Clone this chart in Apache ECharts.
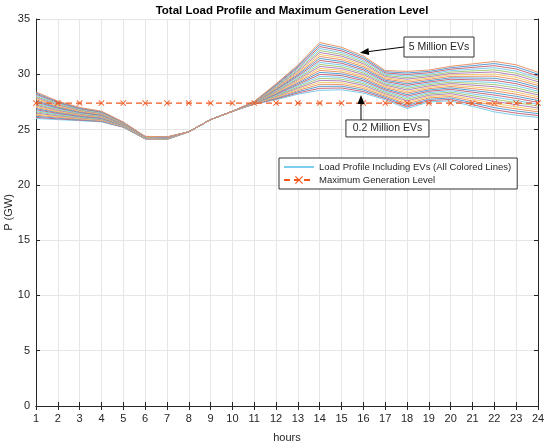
<!DOCTYPE html>
<html>
<head>
<meta charset="utf-8">
<title>Total Load Profile and Maximum Generation Level</title>
<script src="https://cdn.jsdelivr.net/npm/echarts@6/dist/echarts.min.js"></script>
<style>
    html, body { margin: 0; padding: 0; background: #fff; }
    #chart { width: 550px; height: 445px; }
</style>
</head>
<body>
<div id="chart"></div>
<script>
// hours of the day
const hours = [1, 2, 3, 4, 5, 6, 7, 8, 9, 10, 11, 12, 13, 14, 15, 16, 17, 18, 19, 20, 21, 22, 23, 24];

// number of EVs (millions) for each load profile
const fleetSizes = [0.2, 0.4, 0.6, 0.8, 1.0, 1.2, 1.4, 1.6, 1.8, 2.0, 2.2, 2.4, 2.6, 2.8, 3.0, 3.2, 3.4, 3.6, 3.8, 4.0, 4.2, 4.4, 4.6, 4.8, 5.0];

// load profile including EVs (GW), one array per fleet size
const ev0_2 = [26.0, 25.9, 25.8, 25.7, 25.2, 24.15, 24.1, 24.8, 25.9, 26.65, 27.3, 27.7, 28.2, 28.55, 28.6, 28.3, 27.7, 26.9, 27.5, 27.6, 27.1, 26.6, 26.3, 26.1];
const ev0_4 = [26.1, 25.97, 25.85, 25.74, 25.22, 24.16, 24.11, 24.8, 25.9, 26.65, 27.31, 27.76, 28.31, 28.73, 28.76, 28.44, 27.81, 27.04, 27.62, 27.73, 27.26, 26.79, 26.49, 26.27];
const ev0_6 = [26.2, 26.04, 25.9, 25.78, 25.24, 24.17, 24.12, 24.8, 25.9, 26.65, 27.32, 27.82, 28.42, 28.91, 28.92, 28.58, 27.92, 27.18, 27.74, 27.86, 27.42, 26.98, 26.68, 26.44];
const ev0_8 = [26.3, 26.11, 25.95, 25.82, 25.26, 24.18, 24.13, 24.8, 25.9, 26.65, 27.33, 27.88, 28.53, 29.09, 29.08, 28.72, 28.03, 27.32, 27.86, 27.99, 27.58, 27.17, 26.87, 26.61];
const ev1_0 = [26.4, 26.18, 26.0, 25.86, 25.28, 24.19, 24.14, 24.8, 25.9, 26.65, 27.34, 27.94, 28.64, 29.27, 29.24, 28.86, 28.14, 27.46, 27.98, 28.12, 27.74, 27.36, 27.06, 26.78];
const ev1_2 = [26.5, 26.25, 26.05, 25.9, 25.3, 24.2, 24.15, 24.8, 25.9, 26.65, 27.35, 28.0, 28.75, 29.45, 29.4, 29.0, 28.25, 27.6, 28.1, 28.25, 27.9, 27.55, 27.25, 26.95];
const ev1_4 = [26.6, 26.32, 26.1, 25.94, 25.32, 24.21, 24.16, 24.8, 25.9, 26.65, 27.36, 28.06, 28.86, 29.63, 29.56, 29.14, 28.36, 27.74, 28.22, 28.38, 28.06, 27.74, 27.44, 27.12];
const ev1_6 = [26.7, 26.39, 26.15, 25.98, 25.34, 24.22, 24.17, 24.8, 25.9, 26.65, 27.37, 28.12, 28.97, 29.81, 29.72, 29.28, 28.47, 27.88, 28.34, 28.51, 28.22, 27.93, 27.63, 27.29];
const ev1_8 = [26.8, 26.46, 26.2, 26.02, 25.36, 24.23, 24.18, 24.8, 25.9, 26.65, 27.38, 28.18, 29.08, 29.99, 29.88, 29.42, 28.58, 28.02, 28.46, 28.64, 28.38, 28.12, 27.82, 27.46];
const ev2_0 = [26.9, 26.53, 26.25, 26.06, 25.38, 24.24, 24.19, 24.8, 25.9, 26.65, 27.39, 28.24, 29.19, 30.17, 30.04, 29.56, 28.69, 28.16, 28.58, 28.77, 28.54, 28.31, 28.01, 27.63];
const ev2_2 = [27.0, 26.6, 26.3, 26.1, 25.4, 24.25, 24.2, 24.8, 25.9, 26.65, 27.4, 28.3, 29.3, 30.35, 30.2, 29.7, 28.8, 28.3, 28.7, 28.9, 28.7, 28.5, 28.2, 27.8];
const ev2_4 = [27.1, 26.67, 26.35, 26.14, 25.42, 24.26, 24.21, 24.8, 25.9, 26.65, 27.41, 28.36, 29.41, 30.53, 30.36, 29.84, 28.91, 28.44, 28.82, 29.03, 28.86, 28.69, 28.39, 27.97];
const ev2_6 = [27.2, 26.74, 26.4, 26.18, 25.44, 24.27, 24.22, 24.8, 25.9, 26.65, 27.42, 28.42, 29.52, 30.71, 30.52, 29.98, 29.02, 28.58, 28.94, 29.16, 29.02, 28.88, 28.58, 28.14];
const ev2_8 = [27.3, 26.81, 26.45, 26.22, 25.46, 24.28, 24.23, 24.8, 25.9, 26.65, 27.43, 28.48, 29.63, 30.89, 30.68, 30.12, 29.13, 28.72, 29.06, 29.29, 29.18, 29.07, 28.77, 28.31];
const ev3_0 = [27.4, 26.88, 26.5, 26.26, 25.48, 24.29, 24.24, 24.8, 25.9, 26.65, 27.44, 28.54, 29.74, 31.07, 30.84, 30.26, 29.24, 28.86, 29.18, 29.42, 29.34, 29.26, 28.96, 28.48];
const ev3_2 = [27.5, 26.95, 26.55, 26.3, 25.5, 24.3, 24.25, 24.8, 25.9, 26.65, 27.45, 28.6, 29.85, 31.25, 31.0, 30.4, 29.35, 29.0, 29.3, 29.55, 29.5, 29.45, 29.15, 28.65];
const ev3_4 = [27.6, 27.02, 26.6, 26.34, 25.52, 24.31, 24.26, 24.8, 25.9, 26.65, 27.46, 28.66, 29.96, 31.43, 31.16, 30.54, 29.46, 29.14, 29.42, 29.68, 29.66, 29.64, 29.34, 28.82];
const ev3_6 = [27.7, 27.09, 26.65, 26.38, 25.54, 24.32, 24.27, 24.8, 25.9, 26.65, 27.47, 28.72, 30.07, 31.61, 31.32, 30.68, 29.57, 29.28, 29.54, 29.81, 29.82, 29.83, 29.53, 28.99];
const ev3_8 = [27.8, 27.16, 26.7, 26.42, 25.56, 24.33, 24.28, 24.8, 25.9, 26.65, 27.48, 28.78, 30.18, 31.79, 31.48, 30.82, 29.68, 29.42, 29.66, 29.94, 29.98, 30.02, 29.72, 29.16];
const ev4_0 = [27.9, 27.23, 26.75, 26.46, 25.58, 24.34, 24.29, 24.8, 25.9, 26.65, 27.49, 28.84, 30.29, 31.97, 31.64, 30.96, 29.79, 29.56, 29.78, 30.07, 30.14, 30.21, 29.91, 29.33];
const ev4_2 = [28.0, 27.3, 26.8, 26.5, 25.6, 24.35, 24.3, 24.8, 25.9, 26.65, 27.5, 28.9, 30.4, 32.15, 31.8, 31.1, 29.9, 29.7, 29.9, 30.2, 30.3, 30.4, 30.1, 29.5];
const ev4_4 = [28.1, 27.37, 26.85, 26.54, 25.62, 24.36, 24.31, 24.8, 25.9, 26.65, 27.51, 28.96, 30.51, 32.33, 31.96, 31.24, 30.01, 29.84, 30.02, 30.33, 30.46, 30.59, 30.29, 29.67];
const ev4_6 = [28.2, 27.44, 26.9, 26.58, 25.64, 24.37, 24.32, 24.8, 25.9, 26.65, 27.52, 29.02, 30.62, 32.51, 32.12, 31.38, 30.12, 29.98, 30.14, 30.46, 30.62, 30.78, 30.48, 29.84];
const ev4_8 = [28.3, 27.51, 26.95, 26.62, 25.66, 24.38, 24.33, 24.8, 25.9, 26.65, 27.53, 29.08, 30.73, 32.69, 32.28, 31.52, 30.23, 30.12, 30.26, 30.59, 30.78, 30.97, 30.67, 30.01];
const ev5_0 = [28.4, 27.58, 27.0, 26.66, 25.68, 24.39, 24.34, 24.8, 25.9, 26.65, 27.54, 29.14, 30.84, 32.87, 32.44, 31.66, 30.34, 30.26, 30.38, 30.72, 30.94, 31.16, 30.86, 30.18];

const loadProfiles = [ev0_2, ev0_4, ev0_6, ev0_8, ev1_0, ev1_2, ev1_4, ev1_6, ev1_8, ev2_0,
    ev2_2, ev2_4, ev2_6, ev2_8, ev3_0, ev3_2, ev3_4, ev3_6, ev3_8, ev4_0,
    ev4_2, ev4_4, ev4_6, ev4_8, ev5_0];

// maximum generation level (GW)
const maxGeneration = [27.4, 27.4, 27.4, 27.4, 27.4, 27.4, 27.4, 27.4, 27.4, 27.4, 27.4, 27.4,
    27.4, 27.4, 27.4, 27.4, 27.4, 27.4, 27.4, 27.4, 27.4, 27.4, 27.4, 27.4];

const loadName = 'Load Profile Including EVs (All Colored Lines)';
const genName = 'Maximum Generation Level';

// matlab-ish line order, lightened
const palette = ['#5a9fd3', '#eb9468', '#f2cb6e', '#b383bd', '#a6cb79', '#7ccdee', '#c86a7d'];
const FONT = '"Liberation Sans", Arial, Helvetica, sans-serif';
const AXIS_COL = '#262626';

let myChart = echarts.init(document.getElementById('chart'));

let series = loadProfiles.map(function (row, k) {
    let col = palette[(k + 5) % 7];
    return {
        type: 'line',
        name: k === 0 ? loadName : fleetSizes[k] + ' Million EVs',
        data: hours.map(function (h, i) { return [h, row[i]]; }),
        symbol: 'none',
        lineStyle: { width: 1, color: col },
        itemStyle: { color: col },
        z: 2
    };
});
series.push({
    type: 'line',
    name: genName,
    data: hours.map(function (h, i) { return [h, maxGeneration[i]]; }),
    symbol: 'path://M0,1L1,0L5,4L9,0L10,1L6,5L10,9L9,10L5,6L1,10L0,9L4,5Z',
    symbolSize: 6,
    lineStyle: { width: 1.2, color: '#f2561d', type: [6, 4] },
    itemStyle: { color: '#f2561d' },
    z: 5
});

function boxAxis(extra) {
    return Object.assign({
        type: 'value',
        axisLine: { show: true, lineStyle: { color: AXIS_COL, width: 1 } },
        axisTick: { show: true, inside: true, length: 4, lineStyle: { color: AXIS_COL } },
        splitLine: { show: false },
        axisLabel: { show: false }
    }, extra);
}

let option = {
    animation: false,
    backgroundColor: '#fff',
    title: {
        text: 'Total Load Profile and Maximum Generation Level',
        left: 287,
        textAlign: 'center',
        top: 0,
        textStyle: { fontFamily: FONT, fontSize: 11.5, fontWeight: 'bold', color: '#000' }
    },
    grid: { left: 36, right: 12, top: 19, bottom: 39, containLabel: false, outerBoundsMode: 'none' },
    legend: {
        data: [
            { name: loadName, itemStyle: { opacity: 0 } },
            { name: genName }
        ],
        orient: 'vertical',
        left: 279,
        top: 158,
        padding: [4, 6, 4, 4],
        itemGap: 3,
        itemWidth: 30,
        itemHeight: 10,
        borderColor: '#333',
        borderWidth: 1,
        borderRadius: 0,
        backgroundColor: '#fff',
        textStyle: { fontFamily: FONT, fontSize: 9.5, color: '#262626' }
    },
    xAxis: [
        {
            type: 'value',
            min: 1,
            max: 24,
            interval: 1,
            name: 'hours',
            nameLocation: 'middle',
            nameGap: 26,
            nameMoveOverlap: false,
            nameTextStyle: { fontFamily: FONT, fontSize: 11, color: AXIS_COL },
            axisLine: { show: true, lineStyle: { color: AXIS_COL, width: 1 } },
            axisTick: { show: true, inside: true, length: 4, lineStyle: { color: AXIS_COL } },
            axisLabel: { fontFamily: FONT, fontSize: 11, color: AXIS_COL, margin: 7 },
            splitLine: { show: true, lineStyle: { color: '#e6e6e6', width: 1 } }
        },
        boxAxis({ position: 'top', min: 1, max: 24, interval: 1 })
    ],
    yAxis: [
        {
            type: 'value',
            min: 0,
            max: 35,
            interval: 5,
            name: 'P (GW)',
            nameLocation: 'middle',
            nameGap: 22,
            nameMoveOverlap: false,
            nameTextStyle: { fontFamily: FONT, fontSize: 11, color: AXIS_COL },
            axisLine: { show: true, lineStyle: { color: AXIS_COL, width: 1 } },
            axisTick: { show: true, inside: true, length: 4, lineStyle: { color: AXIS_COL } },
            axisLabel: { fontFamily: FONT, fontSize: 11, color: AXIS_COL, margin: 6 },
            splitLine: { show: true, lineStyle: { color: '#e6e6e6', width: 1 } }
        },
        boxAxis({ position: 'right', min: 0, max: 35, interval: 5 })
    ],
    series: series
};

myChart.setOption(option);

// text arrows, anchored in data coordinates
function px(h, v) {
    return myChart.convertToPixel({ xAxisIndex: 0, yAxisIndex: 0 }, [h, v]);
}

function arrow(from, to) {
    let dx = to[0] - from[0], dy = to[1] - from[1];
    let len = Math.sqrt(dx * dx + dy * dy);
    let ux = dx / len, uy = dy / len;
    let bx = to[0] - ux * 9, by = to[1] - uy * 9;
    return [
        {
            type: 'line',
            shape: { x1: from[0], y1: from[1], x2: bx, y2: by },
            style: { stroke: '#000', lineWidth: 1 },
            z: 100
        },
        {
            type: 'polygon',
            shape: { points: [to, [bx - uy * 3.5, by + ux * 3.5], [bx + uy * 3.5, by - ux * 3.5]] },
            style: { fill: '#000' },
            z: 100
        }
    ];
}

function textBox(pos, w, h, label) {
    return {
        type: 'group',
        x: pos[0],
        y: pos[1],
        z: 100,
        children: [
            {
                type: 'rect',
                shape: { x: 0, y: 0, width: w, height: h },
                style: { fill: '#fff', stroke: '#333', lineWidth: 1 }
            },
            {
                type: 'text',
                x: w / 2,
                y: h / 2,
                style: {
                    text: label,
                    fontFamily: FONT,
                    fontSize: 10.5,
                    fill: '#262626',
                    align: 'center',
                    verticalAlign: 'middle'
                }
            }
        ]
    };
}

let graphics = [];
graphics.push(textBox(px(17.86, 33.37), 70, 20, '5 Million EVs'));
graphics = graphics.concat(arrow(px(17.86, 32.47), px(15.84, 31.95)));
graphics.push(textBox(px(15.2, 25.87), 83, 17, '0.2 Million EVs'));
graphics = graphics.concat(arrow(px(15.89, 25.87), px(15.89, 28.13)));

myChart.setOption({ graphic: graphics });
</script>
</body>
</html>
